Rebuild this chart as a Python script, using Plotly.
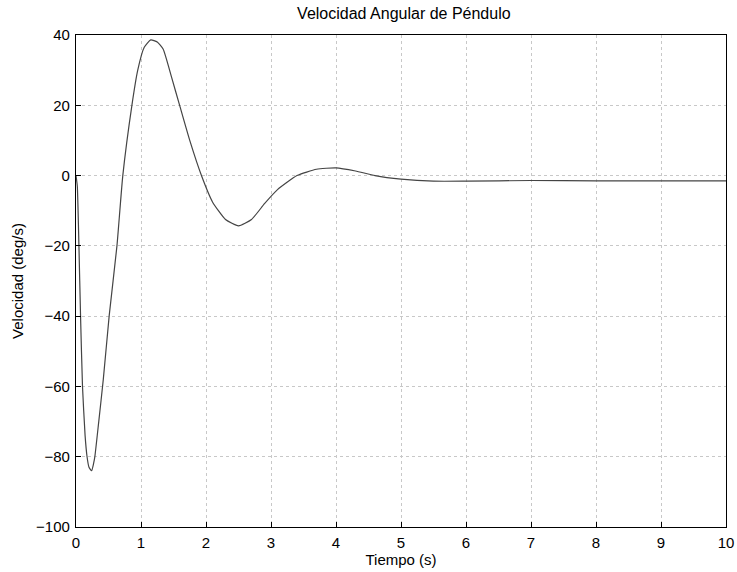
import plotly.graph_objects as go

# Pendulum angular velocity response (deg/s) over time (s)
tiempo = [0.0, 0.02, 0.045, 0.07, 0.10, 0.14, 0.17, 0.20, 0.24, 0.27, 0.29,
          0.35, 0.42, 0.51, 0.63, 0.72, 0.86, 0.95, 1.05, 1.15, 1.25, 1.34,
          1.47, 1.60, 1.75, 1.93, 2.10, 2.30, 2.50, 2.70, 2.90, 3.10, 3.40,
          3.70, 4.00, 4.30, 4.60, 5.00, 5.50, 6.00, 7.00, 8.00, 9.00, 10.0]
velocidad = [0.0, -3.0, -20.0, -40.0, -60.0, -74.0, -80.0, -83.0, -84.0, -82.0, -80.0,
             -70.0, -58.0, -40.0, -20.0, 0.0, 20.0, 30.0, 36.5, 38.6, 38.0, 36.0,
             28.0, 19.6, 10.0, 0.0, -7.5, -12.5, -14.3, -12.5, -8.0, -4.0, 0.0,
             1.8, 2.2, 1.3, 0.0, -1.0, -1.6, -1.6, -1.4, -1.5, -1.5, -1.5]

x_ticks = [0, 1, 2, 3, 4, 5, 6, 7, 8, 9, 10]
y_ticks = [-100, -80, -60, -40, -20, 0, 20, 40]

FONT = "Liberation Sans, Arial, sans-serif"

fig = go.Figure()
fig.add_trace(go.Scatter(
    x=tiempo, y=velocidad, mode="lines",
    line=dict(color="#444444", width=1.2, shape="spline", smoothing=0.5),
    showlegend=False,
))

axis_common = dict(
    showline=True, linecolor="black", linewidth=1.3, mirror=True,
    ticks="inside", ticklen=5, tickcolor="black",
    showgrid=True, gridcolor="#c8c8c8", griddash="dot", gridwidth=1,
    zeroline=False, automargin=False,
    tickfont=dict(family=FONT, size=15, color="black"),
)

fig.update_layout(
    width=737, height=572,
    margin=dict(l=76, r=11, t=35, b=45),
    paper_bgcolor="white", plot_bgcolor="white",
    title=dict(text="Velocidad Angular de Péndulo", x=0.548, xanchor="center",
               y=0.977, yanchor="middle",
               font=dict(family=FONT, size=16, color="black")),
    xaxis=dict(range=[0, 10], tickvals=x_ticks, ticklabelstandoff=2,
               title=dict(text="Tiempo (s)", standoff=0,
                          font=dict(family=FONT, size=15, color="black")),
               **axis_common),
    yaxis=dict(range=[-100, 40], tickvals=y_ticks, ticklabelstandoff=2,
               title=dict(text="Velocidad (deg/s)", standoff=8,
                          font=dict(family=FONT, size=15, color="black")),
               **axis_common),
)

fig.write_html("out.html")
